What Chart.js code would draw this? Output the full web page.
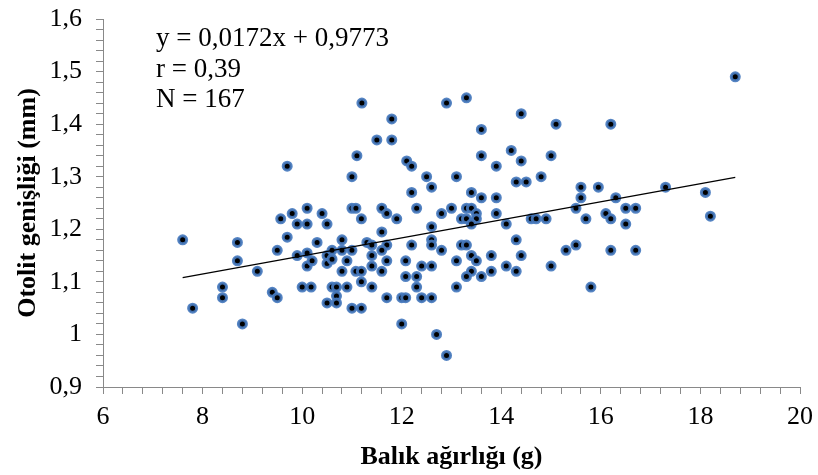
<!DOCTYPE html>
<html>
<head>
<meta charset="utf-8">
<script src="https://cdn.jsdelivr.net/npm/chart.js@4"></script>
<style>
  html, body { margin: 0; padding: 0; background: #fff; }
  #wrap { width: 818px; height: 475px; }
</style>
</head>
<body>
<div id="wrap"><canvas id="otolith-chart"></canvas></div>
<script>
// fish weight (g) vs otolith width (mm)
const weights = [
  7.6, 7.8, 8.4, 8.4, 8.7, 8.7, 8.8, 9.1, 9.4, 9.5, 9.5, 9.57, 9.7,
  11.2, 11.8, 11.5, 11.8, 11.1, 12.1, 12.2, 11.0, 12.5, 12.6, 12.2, 12.3, 12.8,
  9.8, 10.1, 9.9, 10.1, 10.4, 10.5, 11.0, 11.08, 11.19, 11.6, 11.7, 11.9, 11.6, 12.6,
  9.7, 10.3, 9.9, 10.1, 10.1, 10.2, 10.5, 10.5, 10.6, 10.6, 10.8, 10.8, 11.0, 10.9, 10.8,
  11.3, 11.4, 11.4, 11.4, 11.7, 11.6, 11.7, 11.6, 11.08, 11.19, 11.19,
  10.0, 10.18, 10.6, 10.69, 10.9, 10.69, 10.5, 10.69, 11.0, 11.19, 11.4, 11.7,
  12.0, 12.08, 12.0, 12.08, 12.2, 12.08, 12.3, 12.3, 12.4, 12.6, 12.4, 12.6, 12.6, 12.6, 12.7,
  12.9, 13.3, 14.4, 15.1, 13.6, 14.2, 14.4, 13.6, 13.9, 15.0, 14.8, 13.1, 14.3, 14.5,
  13.4, 13.6, 13.9, 15.6, 15.6, 15.95, 15.5, 15.7, 13.0, 13.3, 13.4, 13.2, 13.3, 13.5, 13.5,
  13.4, 13.9, 14.1, 14.6, 14.7, 14.9, 12.8, 13.2, 13.3, 14.3, 13.4, 13.5, 13.8, 14.4, 13.1,
  13.4, 13.3, 13.6, 13.8, 14.1, 14.3, 13.1, 15.0, 15.3, 15.5, 15.8, 12.9,
  18.7, 16.2, 17.3, 16.3, 18.1, 16.1, 16.2, 16.5, 16.7, 16.5, 18.2, 16.2, 16.7
];
const widths = [
  1.18, 1.05, 1.09, 1.07, 1.175, 1.14, 1.02, 1.12, 1.08, 1.07, 1.16, 1.22, 1.32,
  1.44, 1.41, 1.37, 1.37, 1.34, 1.33, 1.32, 1.30, 1.30, 1.28, 1.27, 1.24, 1.23,
  1.23, 1.24, 1.21, 1.21, 1.23, 1.21, 1.24, 1.24, 1.22, 1.24, 1.23, 1.22, 1.195, 1.205,
  1.185, 1.175, 1.15, 1.155, 1.13, 1.14, 1.15, 1.135, 1.16, 1.143, 1.18, 1.16, 1.16, 1.14, 1.12,
  1.175, 1.17, 1.15, 1.13, 1.17, 1.16, 1.14, 1.12, 1.12, 1.12, 1.10,
  1.09, 1.09, 1.09, 1.09, 1.09, 1.073, 1.06, 1.06, 1.05, 1.05, 1.09, 1.07,
  1.07, 1.07, 1.02, 1.14, 1.17, 1.11, 1.11, 1.09, 1.13, 1.13, 1.07, 1.07, 1.18, 1.17, 1.00,
  1.44, 1.45, 1.42, 1.40, 1.39, 1.35, 1.33, 1.34, 1.32, 1.34, 1.30, 1.30, 1.29, 1.29,
  1.27, 1.26, 1.26, 1.28, 1.26, 1.28, 1.24, 1.22, 1.24, 1.24, 1.24, 1.22, 1.22, 1.23, 1.22,
  1.21, 1.23, 1.21, 1.22, 1.22, 1.22, 1.16, 1.17, 1.17, 1.18, 1.15, 1.14, 1.15, 1.15, 1.14,
  1.12, 1.11, 1.11, 1.12, 1.13, 1.12, 1.09, 1.13, 1.16, 1.17, 1.09, 0.96,
  1.49, 1.40, 1.28, 1.26, 1.27, 1.23, 1.22, 1.24, 1.24, 1.21, 1.225, 1.16, 1.16
];

// regression: y = a·x + b
const slope = 0.0172;
const intercept = 0.9773;
const statsLines = ['y = 0,0172x + 0,9773', 'r = 0,39', 'N = 167'];

const xMin = 6, xMax = 20, xMajor = 2, xMinor = 0.4;
const yMin = 0.9, yMax = 1.6, yMajor = 0.1, yMinor = 0.02;

const xTitle = 'Balık ağırlığı (g)';
const yTitle = 'Otolit genişliği (mm)';

const axisGrey = '#898989';
const serif = "'Liberation Serif', 'Times New Roman', serif";

const points = weights.map((w, i) => ({ x: w, y: widths[i] }));
const xLo = Math.min(...weights);
const xHi = Math.max(...weights);
const trend = [
  { x: xLo, y: slope * xLo + intercept },
  { x: xHi, y: slope * xHi + intercept }
];

function isMajor(v, step) {
  const k = v / step;
  return Math.abs(k - Math.round(k)) < 1e-6;
}

// equation, r and N in the upper left of the plot
const statsText = {
  id: 'statsText',
  afterDraw(chart) {
    const ctx = chart.ctx;
    ctx.save();
    ctx.font = '27px ' + serif;
    ctx.fillStyle = '#000';
    ctx.textBaseline = 'alphabetic';
    statsLines.forEach((line, i) => {
      ctx.fillText(line, 156, 46 + i * 30.5);
    });
    ctx.restore();
  }
};

const config = {
  type: 'scatter',
  data: {
    datasets: [
      {
        type: 'line',
        data: trend,
        borderColor: '#000',
        borderWidth: 1.3,
        pointRadius: 0,
        fill: false,
        order: 0
      },
      {
        data: points,
        pointRadius: 4,
        pointBackgroundColor: '#000',
        pointBorderColor: 'rgba(70,122,190,0.92)',
        pointBorderWidth: 3,
        order: 1
      }
    ]
  },
  options: {
    responsive: true,
    maintainAspectRatio: false,
    animation: false,
    events: [],
    layout: { padding: { top: 19, right: 18, left: 0, bottom: 0 } },
    plugins: {
      legend: { display: false },
      tooltip: { enabled: false }
    },
    scales: {
      x: {
        type: 'linear',
        min: xMin,
        max: xMax,
        afterFit: scale => {
          scale.height = 88;
          scale.paddingLeft = 0;
          scale.paddingRight = 0;
        },
        border: { display: true, color: axisGrey, width: 1 },
        grid: { drawOnChartArea: false, drawTicks: true, tickLength: 7, color: axisGrey },
        ticks: {
          stepSize: xMinor,
          autoSkip: false,
          maxRotation: 0,
          padding: 8,
          color: '#000',
          font: { family: serif, size: 26 },
          callback: v => isMajor(v, xMajor) ? String(Math.round(v)) : ''
        },
        title: {
          display: true,
          text: xTitle,
          color: '#000',
          font: { family: serif, size: 26, weight: 'bold' },
          padding: { top: 0, bottom: 2 }
        }
      },
      y: {
        type: 'linear',
        min: yMin,
        max: yMax,
        afterFit: scale => {
          scale.width = 103;
          scale.paddingTop = 0;
          scale.paddingBottom = 0;
        },
        border: { display: true, color: axisGrey, width: 1 },
        grid: { drawOnChartArea: false, drawTicks: true, tickLength: 7, color: axisGrey },
        ticks: {
          stepSize: yMinor,
          autoSkip: false,
          padding: 14,
          color: '#000',
          font: { family: serif, size: 26 },
          callback: v => isMajor(v, yMajor)
            ? (Math.abs(v - Math.round(v)) < 1e-6 ? String(Math.round(v)) : v.toFixed(1).replace('.', ','))
            : ''
        },
        title: {
          display: true,
          text: yTitle,
          color: '#000',
          font: { family: serif, size: 26, weight: 'bold' },
          padding: { top: 13, bottom: 0 }
        }
      }
    }
  },
  plugins: [statsText]
};

new Chart(document.getElementById('otolith-chart'), config);
</script>
</body>
</html>
